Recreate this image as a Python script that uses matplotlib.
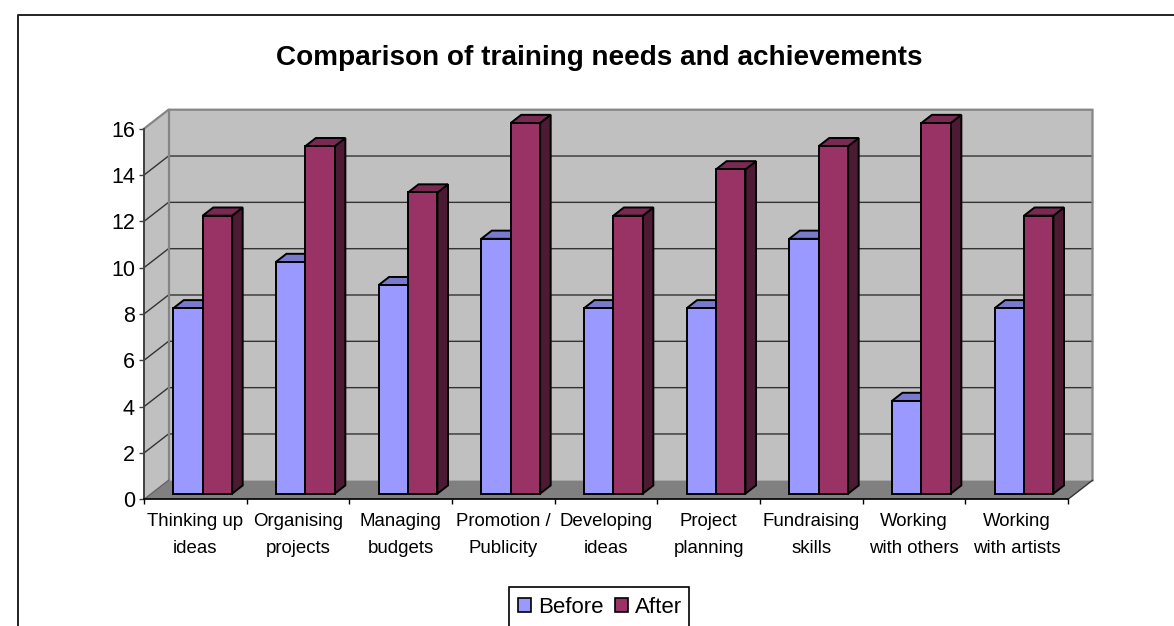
import matplotlib
matplotlib.use("Agg")
import matplotlib.pyplot as plt
from matplotlib.lines import Line2D
from matplotlib.patches import Patch, Polygon, Rectangle
import numpy as np

categories = ["Thinking up\nideas", "Organising\nprojects", "Managing\nbudgets",
              "Promotion /\nPublicity", "Developing\nideas", "Project\nplanning",
              "Fundraising\nskills", "Working\nwith others", "Working\nwith artists"]
before = [8, 10, 9, 11, 8, 8, 11, 4, 8]
after = [12, 15, 13, 16, 12, 14, 15, 16, 12]
y_ticks = [0, 2, 4, 6, 8, 10, 12, 14, 16]

BLUE = "#9999FF"
BLUE_SIDE = "#4D4D80"
BLUE_TOP = "#7A7ACC"
PLUM = "#993366"
PLUM_SIDE = "#4D1A33"
PLUM_TOP = "#7A2952"
WALL = "#C0C0C0"
FLOOR = "#808080"

W, H = 1174, 626
plt.rcParams["font.family"] = ["Liberation Sans", "DejaVu Sans"]

fig = plt.figure(figsize=(W / 100, H / 100), dpi=100)
ax = fig.add_axes([144 / W, (H - 499.3) / H, 924 / W, 370.6 / H])
ax.set_xlim(0, 9)
ax.set_ylim(0, 16)
ax.patch.set_visible(False)

# oblique depth, in data units per unit of depth
DX = 24.5 / (924 / 9)
DY = 19 / (370.6 / 16)
def pt(x, y, d):
    return (x + d * DX, y + d * DY)

def poly(points, color, edge="none", lw=0, z=1):
    ax.add_patch(Polygon(points, closed=True, facecolor=color, edgecolor=edge,
                         linewidth=lw, clip_on=False, zorder=z))

# walls and floor
poly([pt(0, 0, 0), pt(0, 16, 0), pt(0, 16, 1), pt(0, 0, 1)], WALL)
poly([pt(0, 0, 1), pt(0, 16, 1), pt(9, 16, 1), pt(9, 0, 1)], WALL)
poly([pt(0, 0, 0), pt(0, 0, 1), pt(9, 0, 1), pt(9, 0, 0)], FLOOR)

for v in y_ticks[1:-1]:
    a = pt(0, v, 0)
    b = pt(0, v, 1)
    c = pt(9, v, 1)
    ax.plot([a[0], b[0], c[0]], [a[1], b[1], c[1]], color="#333333", lw=1,
            clip_on=False, zorder=2)

# wall borders
a, b, c, d = pt(0, 16, 0), pt(0, 16, 1), pt(9, 16, 1), pt(9, 0, 1)
ax.plot([a[0], b[0], c[0], d[0]], [a[1], b[1], c[1], d[1]], color="#858585", lw=1.6,
        clip_on=False, zorder=2, solid_joinstyle="miter")
a, b = pt(0, 0, 1), pt(0, 16, 1)
ax.plot([a[0], b[0]], [a[1], b[1]], color="#858585", lw=1.6, clip_on=False, zorder=2)
a, b = pt(0, 0, 0), pt(0, 0, 1)
ax.plot([a[0], b[0]], [a[1], b[1]], color="#666666", lw=1, clip_on=False, zorder=2)
a, b = pt(9, 0, 0), pt(9, 0, 1)
ax.plot([a[0], b[0]], [a[1], b[1]], color="#333333", lw=1, clip_on=False, zorder=2)

# bars
x = np.arange(len(categories)) + 0.5
BW = 0.287
D0 = 0.30
D1 = D0 + 0.43

for series, offset, front, side, top in [(before, -BW / 2, BLUE, BLUE_SIDE, BLUE_TOP),
                                         (after, BW / 2, PLUM, PLUM_SIDE, PLUM_TOP)]:
    for i, v in enumerate(series):
        l = x[i] + offset - BW / 2
        r = x[i] + offset + BW / 2
        z = 3 if series is before else 4
        poly([pt(r, 0, D0), pt(r, v, D0), pt(r, v, D1), pt(r, 0, D1)], side, "black", 1.4, z)
        poly([pt(l, v, D0), pt(l, v, D1), pt(r, v, D1), pt(r, v, D0)], top, "black", 1.4, z)
    ax.bar(x + offset + D0 * DX, series, BW, bottom=D0 * DY, color=front,
           edgecolor="black", linewidth=1.4, zorder=5 if series is after else 4, clip_on=False)

for s in ["top", "right"]:
    ax.spines[s].set_visible(False)
ax.spines["left"].set_color("#404040")
ax.spines["left"].set_linewidth(1.4)
ax.spines["bottom"].set_linewidth(1.2)
ax.spines["left"].set_zorder(6)
ax.spines["bottom"].set_zorder(6)

ax.set_yticks(y_ticks)
ax.tick_params(axis="y", labelsize=15.5, length=3.6, width=1, pad=2.9, color="#404040", labelcolor="black")
ax.set_xticks(np.arange(10))
ax.set_xticklabels([])
ax.tick_params(axis="x", which="major", length=3.8, width=1)
ax.set_xticks(x, minor=True)
ax.set_xticklabels(categories, minor=True, fontsize=13.4, linespacing=1.78)
ax.tick_params(axis="x", which="minor", length=0, pad=9.8)

fig.text(599.5 / W, 1 - 58 / H, "Comparison of training needs and achievements",
         ha="center", va="center", fontsize=20.1, fontweight="bold")

# chart area border, cropped at the right and bottom of the picture
fig.add_artist(Line2D([18.5 / W, 18.5 / W, 1], [0, 1 - 14.7 / H, 1 - 14.7 / H],
                      color="#222222", lw=1.4))

# legend box runs off the bottom of the picture, so it is drawn apart from the legend
fig.add_artist(Rectangle((509 / W, -20 / H), 180 / W, (H - 587 + 20) / H, facecolor="white",
                         edgecolor="black", linewidth=1.2, transform=fig.transFigure))
handles = [Patch(facecolor=BLUE, edgecolor="black", linewidth=1.2, label="Before"),
           Patch(facecolor=PLUM, edgecolor="black", linewidth=1.2, label="After")]
fig.legend(handles=handles, ncol=2, loc="upper left", bbox_to_anchor=(509 / W, 1 - 588 / H),
           borderaxespad=0, fontsize=16, frameon=False, handlelength=0.6, handleheight=0.6,
           handletextpad=0.32, columnspacing=0.5, borderpad=0.4)

fig.savefig("out.png", dpi=100)
